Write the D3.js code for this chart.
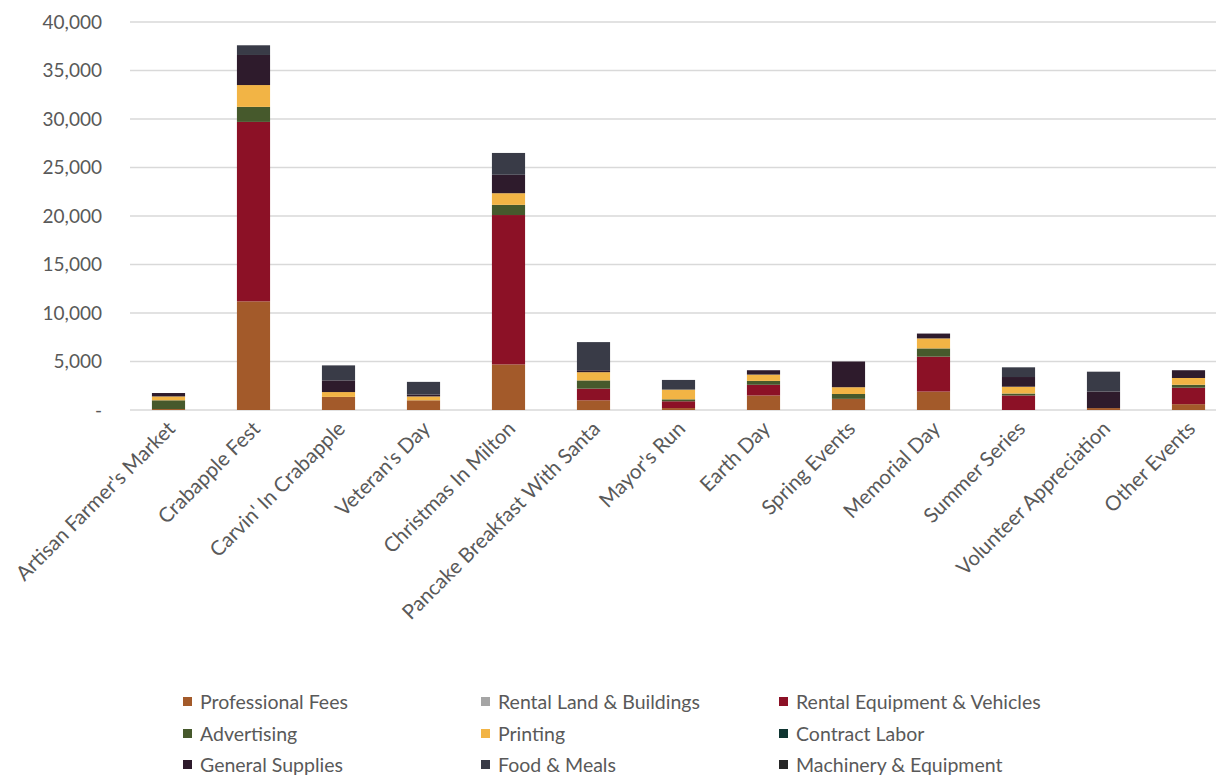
<!DOCTYPE html>
<html>
<head>
<meta charset="utf-8">
<script src="https://cdn.jsdelivr.net/npm/d3@7"></script>
<style>
  html, body { margin: 0; padding: 0; background: #fff; }
  svg { display: block; }
  text { font-family: Lato, "Open Sans", sans-serif; fill: #595959; }
</style>
</head>
<body>
<svg id="chart" width="1225" height="778"></svg>
<script>
const categories = ["Artisan Farmer's Market", "Crabapple Fest", "Carvin' In Crabapple", "Veteran's Day",
  "Christmas In Milton", "Pancake Breakfast With Santa", "Mayor's Run", "Earth Day", "Spring Events",
  "Memorial Day", "Summer Series", "Volunteer Appreciation", "Other Events"];

const seriesNames = ["Professional Fees", "Rental Land & Buildings", "Rental Equipment & Vehicles",
  "Advertising", "Printing", "Contract Labor", "General Supplies", "Food & Meals", "Machinery & Equipment"];

const professionalFees   = [100, 11200, 1350, 1000, 4700, 1000, 200, 1500, 1150, 1900, 0, 200, 600];
const rentalLand         = [0, 0, 0, 0, 0, 0, 0, 0, 0, 0, 0, 0, 0];
const rentalEquipment    = [0, 18500, 0, 0, 15400, 1200, 700, 1100, 0, 3600, 1500, 0, 1700];
const advertising        = [900, 1550, 0, 0, 1050, 850, 200, 400, 500, 850, 200, 0, 300];
const printing           = [400, 2250, 500, 400, 1200, 850, 1000, 650, 700, 1030, 700, 0, 700];
const contractLabor      = [0, 0, 0, 0, 0, 0, 0, 0, 0, 0, 0, 0, 0];
const generalSupplies    = [350, 3100, 1200, 200, 1900, 200, 0, 450, 2650, 500, 1000, 1700, 800];
const foodMeals          = [0, 1000, 1550, 1300, 2250, 2900, 1000, 0, 0, 0, 1000, 2050, 0];
const machineryEquipment = [0, 0, 0, 0, 0, 0, 0, 0, 0, 0, 0, 0, 0];

const yTicks = [0, 5000, 10000, 15000, 20000, 25000, 30000, 35000, 40000];

const colors = ["#a35a2a", "#a5a5a5", "#8c1126", "#46592c", "#f2b445", "#0f3531", "#2e1b2c", "#393b47", "#272727"];

const seriesValues = [professionalFees, rentalLand, rentalEquipment, advertising, printing,
  contractLabor, generalSupplies, foodMeals, machineryEquipment];

const rows = categories.map((c, i) => {
  const r = { category: c };
  seriesNames.forEach((s, j) => r[s] = seriesValues[j][i]);
  return r;
});

const svg = d3.select("#chart");
const plotLeft = 126, plotRight = 1231, plotTop = 22, plotBottom = 410;

const x = d3.scaleBand().domain(categories).range([plotLeft, plotRight]).paddingInner(0.61).paddingOuter(0.305);
const y = d3.scaleLinear().domain([0, 40000]).range([plotBottom, plotTop]);

// gridlines
svg.append("g").selectAll("line").data(yTicks).join("line")
  .attr("x1", 130).attr("x2", 1216)
  .attr("y1", d => y(d)).attr("y2", d => y(d))
  .attr("stroke", "#d9d9d9").attr("stroke-width", 1.5);

// y axis labels
const yAxis = d3.axisLeft(y).tickValues(yTicks).tickSize(0).tickPadding(0)
  .tickFormat(d => d === 0 ? "-" : d3.format(",")(d));
const ya = svg.append("g").attr("transform", `translate(102,0)`).call(yAxis);
ya.select(".domain").remove();
ya.selectAll("text").style("font-size", "19px").style("font-family", "Lato, sans-serif").attr("fill", "#595959");

// stacked bars
const stack = d3.stack().keys(seriesNames)(rows);
svg.append("g").selectAll("g").data(stack).join("g")
  .attr("fill", (d, i) => colors[i])
  .selectAll("rect").data(d => d).join("rect")
  .attr("x", d => x(d.data.category))
  .attr("width", x.bandwidth())
  .attr("y", d => y(d[1]))
  .attr("height", d => Math.max(0, y(d[0]) - y(d[1])));

// x axis labels
const xAxis = d3.axisBottom(x).tickSize(0).tickPadding(0);
const xa = svg.append("g").attr("transform", `translate(0,${plotBottom})`).call(xAxis);
xa.select(".domain").remove();
xa.selectAll("text")
  .style("font-size", "20.5px").style("font-family", "Lato, sans-serif").attr("fill", "#595959")
  .attr("text-anchor", "end")
  .attr("dy", 0).attr("y", 0)
  .attr("transform", "translate(8,20) rotate(-45)");

// legend
const legendPos = [[183, 702], [481, 702], [779, 702], [183, 734], [481, 734], [779, 734], [183, 765], [481, 765], [779, 765]];
const lg = svg.append("g").selectAll("g").data(seriesNames).join("g")
  .attr("transform", (d, i) => `translate(${legendPos[i][0]},${legendPos[i][1]})`);
lg.append("rect").attr("x", 0).attr("y", -5).attr("width", 9).attr("height", 9).attr("fill", (d, i) => colors[i]);
lg.append("text").attr("x", 17).attr("y", 0).attr("dy", "0.35em")
  .style("font-size", "19.5px").text(d => d);
</script>
</body>
</html>
